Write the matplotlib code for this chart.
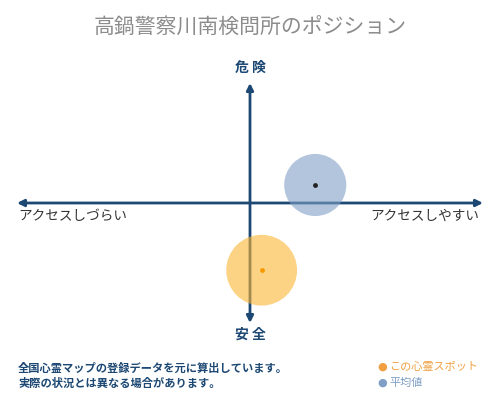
import matplotlib
matplotlib.use("Agg")
import matplotlib.pyplot as plt

plt.rcParams['font.family'] = ['Noto Sans CJK JP', 'DejaVu Sans']

# データ (x: アクセスのしやすさ, y: 危険度)
names = ['この心霊スポット', '平均値']
xs = [0.05, 0.28]
ys = [-0.56, 0.15]
colors = ['#fbb634', '#7f9fc6']
dot_colors = ['#f59a00', '#222222']
sizes = [2600, 2000]

title = '高鍋警察川南検問所のポジション'
navy = '#1c4873'

fig = plt.figure(figsize=(5, 4), dpi=100)
ax = fig.add_axes([17 / 500, 1 - 323 / 400, 466 / 500, 240 / 400])
ax.set_xlim(-1, 1)
ax.set_ylim(-1, 1)
ax.axis('off')

# 軸の矢印
ax.annotate('', xy=(1, 0), xytext=(-1, 0),
            arrowprops=dict(arrowstyle='<|-|>', color=navy, lw=2, mutation_scale=10, shrinkA=0, shrinkB=0))
ax.annotate('', xy=(0, 1), xytext=(0, -1),
            arrowprops=dict(arrowstyle='<|-|>', color=navy, lw=2, mutation_scale=10, shrinkA=0, shrinkB=0))

for x, y, c, dc, s in zip(xs, ys, colors, dot_colors, sizes):
    ax.scatter(x, y, s=s, color=c, alpha=0.6, edgecolors='none', zorder=3)
    ax.scatter(x, y, s=6, color=dc, zorder=4)

fig.text(0.5, 1 - 28 / 400, title, ha='center', va='center', fontsize=15, color='#8c8c8c')
fig.text(0.5, 1 - 68 / 400, '危 険', ha='center', va='center', fontsize=10, color=navy, fontweight='bold')
fig.text(0.5, 1 - 335 / 400, '安 全', ha='center', va='center', fontsize=10, color=navy, fontweight='bold')
fig.text(18 / 500, 1 - 216 / 400, 'アクセスしづらい', ha='left', va='center', fontsize=9.8, color='#333333')
fig.text(479 / 500, 1 - 216 / 400, 'アクセスしやすい', ha='right', va='center', fontsize=9.8, color='#333333')

fig.text(18 / 500, 1 - 368 / 400, '全国心霊マップの登録データを元に算出しています。', ha='left', va='center',
         fontsize=8.1, color=navy, fontweight='bold')
fig.text(18 / 500, 1 - 383 / 400, '実際の状況とは異なる場合があります。', ha='left', va='center',
         fontsize=8.1, color=navy, fontweight='bold')

legend_colors = ['#f0a040', '#7f9fc6']
legend_text_colors = ['#f0a040', '#7f9fc6']
for i, (n, c, tc) in enumerate(zip(names, legend_colors, legend_text_colors)):
    yy = 1 - (367 + 16 * i) / 400
    fig.text(377 / 500, yy, '●', ha='left', va='center', fontsize=8, color=c, family=['DejaVu Sans'])
    fig.text(389 / 500, yy, n, ha='left', va='center', fontsize=8, color=tc)

fig.savefig('out.png', dpi=100)
